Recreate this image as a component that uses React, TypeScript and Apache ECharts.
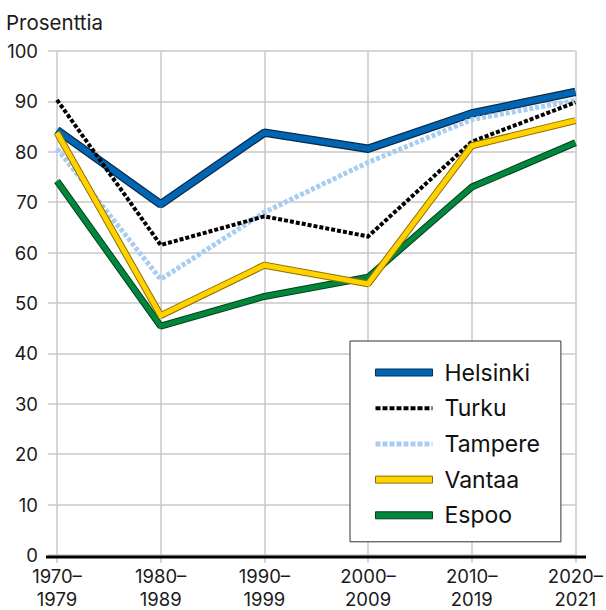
import React, { useEffect, useRef } from "react";
import * as echarts from "echarts";

const categories = ["1970–\n1979", "1980–\n1989", "1990–\n1999", "2000–\n2009", "2010–\n2019", "2020–\n2021"];
const helsinki = [84.3, 69.6, 83.8, 80.6, 87.6, 91.9];
const turku = [90.3, 61.5, 67.2, 63.2, 82.0, 89.8];
const tampere = [80.6, 54.7, 68.0, 77.9, 86.4, 90.2];
const vantaa = [83.8, 47.5, 57.5, 53.8, 81.2, 86.2];
const espoo = [74.2, 45.4, 51.3, 55.1, 73.0, 81.8];
const yTicks = [0, 100, 10];

const FONT = "Inter, 'Noto Sans', sans-serif";

export default function App() {
  const ref = useRef<HTMLDivElement>(null);
  useEffect(() => {
    if (!ref.current) return;
    const chart = echarts.init(ref.current, undefined, { renderer: "svg" });
    const outline = (name: string, data: number[], color: string, width: number) => ({
      name,
      type: "line",
      data,
      symbol: "none",
      lineStyle: { color, width },
      itemStyle: { color },
      silent: true,
    });
    const main = (name: string, data: number[], color: string, width: number, type: any = "solid") => ({
      name,
      type: "line",
      data,
      symbol: "none",
      lineStyle: { color, width, type, cap: "butt", join: "miter" },
      itemStyle: { color },
    });
    chart.setOption({
      animation: false,
      textStyle: { fontFamily: FONT },
      title: {
        text: "Prosenttia",
        left: 1,
        top: 7,
        textStyle: { fontFamily: FONT, fontSize: 20.5, fontWeight: "normal", color: "#1a1a1a" },
      },
      grid: { left: 57, right: 30, top: 51, bottom: 53 },
      xAxis: {
        type: "category",
        data: categories,
        boundaryGap: false,
        axisLine: { show: false },
        axisTick: { show: true, length: 8, lineStyle: { color: "#c8c8c8", width: 1.5 } },
        splitLine: { show: true, lineStyle: { color: "#c8c8c8", width: 1.5 } },
        axisLabel: {
          fontFamily: FONT,
          fontSize: 18.5,
          color: "#1a1a1a",
          lineHeight: 23,
          margin: 9,
          interval: 0,
        },
      },
      yAxis: {
        type: "value",
        min: yTicks[0],
        max: yTicks[1],
        interval: yTicks[2],
        axisLine: { show: false },
        axisTick: { show: true, length: 9, lineStyle: { color: "#c8c8c8", width: 1.5 } },
        splitLine: { show: true, lineStyle: { color: "#c8c8c8", width: 1.5 } },
        axisLabel: { fontFamily: FONT, fontSize: 18.5, color: "#1a1a1a", margin: 19 },
      },
      legend: {
        orient: "vertical",
        left: 350,
        top: 341,
        padding: [20, 21, 15, 23],
        backgroundColor: "#fff",
        borderColor: "#333",
        borderWidth: 1,
        borderRadius: 0,
        itemWidth: 57,
        itemHeight: 7,
        itemGap: 12.7,
        selectedMode: false,
        textStyle: { fontFamily: FONT, fontSize: 23, color: "#111", lineHeight: 20, padding: [0, 0, 0, 7] },
        data: [
          { name: "Helsinki", icon: "rect", itemStyle: { color: "#0066b3", borderColor: "#0d2a4a", borderWidth: 1 } },
          { name: "Turku", icon: "inherit", itemStyle: { opacity: 0 }, lineStyle: { type: [5, 2], width: 4 } },
          { name: "Tampere", icon: "inherit", itemStyle: { opacity: 0 }, lineStyle: { type: [5, 2], width: 5 } },
          { name: "Vantaa", icon: "rect", itemStyle: { color: "#ffd200", borderColor: "#8c7000", borderWidth: 1 } },
          { name: "Espoo", icon: "rect", itemStyle: { color: "#00873c", borderColor: "#063d1e", borderWidth: 1 } },
        ],
      },
      graphic: [
        {
          type: "line",
          shape: { x1: 46, y1: 557, x2: 586, y2: 557 },
          style: { stroke: "#000", lineWidth: 3 },
          z: 100,
        },
      ],
      series: [
        outline("Helsinki-o", helsinki, "#0d2a4a", 8.5),
        main("Helsinki", helsinki, "#0066b3", 6),
        main("Tampere", tampere, "#a9cdf0", 5, [4, 2]),
        main("Turku", turku, "#000000", 4, [4, 2]),
        outline("Espoo-o", espoo, "#063d1e", 7),
        main("Espoo", espoo, "#00873c", 5),
        outline("Vantaa-o", vantaa, "#8c7000", 7),
        main("Vantaa", vantaa, "#ffd200", 5),
      ],
    });
    return () => chart.dispose();
  }, []);
  return <div ref={ref} style={{ position: "absolute", left: 0, top: 0, width: 606, height: 610 }} />;
}
